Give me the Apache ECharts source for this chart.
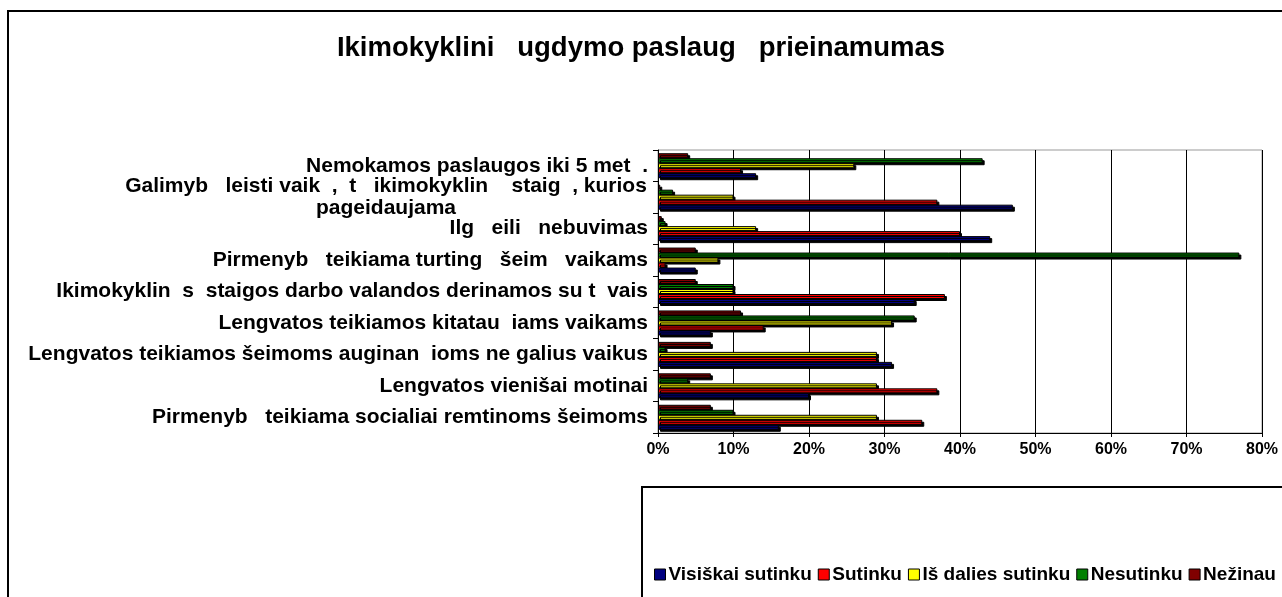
<!DOCTYPE html>
<html>
<head>
<meta charset="utf-8">
<script src="https://cdn.jsdelivr.net/npm/echarts@6/dist/echarts.min.js"></script>
<style>
html, body { margin: 0; padding: 0; background: #fff; }
#chart { width: 1282px; height: 597px; }
</style>
</head>
<body>
<div id="chart"></div>
<script>
(function(){
"use strict";
// categories, bottom to top (as ECharts lays out the y category axis)
var categories = [
  'Pirmenyb   teikiama socialiai remtinoms šeimoms',
  'Lengvatos vienišai motinai',
  'Lengvatos teikiamos šeimoms auginan  ioms ne galius vaikus',
  'Lengvatos teikiamos kitatau  iams vaikams',
  'Ikimokyklin  s  staigos darbo valandos derinamos su t  vais',
  'Pirmenyb   teikiama turting   šeim   vaikams',
  'Ilg   eili   nebuvimas',
  'Galimyb   leisti vaik  ,  t   ikimokyklin    staig  , kurios\npageidaujama',
  'Nemokamos paslaugos iki 5 met  .'
];
var seriesNames = ['Visiškai sutinku', 'Sutinku', 'Iš dalies sutinku', 'Nesutinku', 'Nežinau'];
var seriesColors = ['#000080', '#ff0000', '#ffff00', '#008000', '#800000'];
// values in percent, same order as categories
var visiskaiSutinku = [16, 20, 31, 7, 34, 5, 44, 47, 13];
var sutinku         = [35, 37, 29, 14, 38, 1, 40, 37, 11];
var isDaliesSutinku = [29, 29, 29, 31, 10, 8, 13, 10, 26];
var nesutinku       = [10, 4, 1, 34, 10, 77, 1, 2, 43];
var nezinau         = [7, 7, 7, 11, 5, 5, 0.5, 0.3, 4];
var xTicks = [0, 10, 20, 30, 40, 50, 60, 70, 80];

var seriesData = [visiskaiSutinku, sutinku, isDaliesSutinku, nesutinku, nezinau];
var myChart = echarts.init(document.getElementById('chart'));
var font = '"Liberation Sans", Arial, sans-serif';

// ECharts puts the first series at the top of each group, so add them in reverse
var series = [];
for (var i = seriesData.length - 1; i >= 0; i--) {
  series.push({
    name: seriesNames[i],
    type: 'bar',
    data: seriesData[i],
    barWidth: 5,
    barGap: '0%',
    itemStyle: {
      color: seriesColors[i],
      borderColor: '#000',
      borderWidth: 1,
      shadowColor: '#000',
      shadowOffsetX: 2,
      shadowOffsetY: 2,
      shadowBlur: 0
    }
  });
}

var labelStyle = { fontFamily: font, fontSize: 21, fontWeight: 'bold', color: '#000', lineHeight: 22 };

var option = {
  backgroundColor: '#fff',
  animation: false,
  title: {
    text: 'Ikimokyklini   ugdymo paslaug   prieinamumas',
    left: 'center',
    top: 29,
    textStyle: { fontFamily: font, fontSize: 27.5, fontWeight: 'bold', color: '#000' }
  },
  legend: {
    data: seriesNames,
    left: 649,
    top: 560,
    itemWidth: 11,
    itemHeight: 11,
    itemGap: 6,
    icon: 'rect',
    itemStyle: { borderColor: '#000', borderWidth: 1, shadowBlur: 0, shadowOffsetX: 0, shadowOffsetY: 0 },
    textStyle: { fontFamily: font, fontSize: 19, fontWeight: 'bold', color: '#000', padding: [0, 0, 0, -2] }
  },
  grid: {
    left: 658,
    right: 20,
    top: 150,
    bottom: 164,
    show: true,
    borderColor: '#999',
    borderWidth: 1
  },
  xAxis: {
    type: 'value',
    min: xTicks[0],
    max: xTicks[xTicks.length - 1],
    interval: 10,
    axisLine: { show: true, lineStyle: { color: '#000', width: 1 } },
    axisTick: { show: true, length: 4, lineStyle: { color: '#000' } },
    axisLabel: {
      formatter: '{value}%',
      fontFamily: font, fontSize: 16, fontWeight: 'bold', color: '#000', margin: 9
    },
    splitLine: { show: true, lineStyle: { color: '#000', width: 1 } }
  },
  yAxis: {
    type: 'category',
    data: categories,
    axisLine: { show: true, lineStyle: { color: '#000', width: 1 } },
    axisTick: { show: true, length: 5, lineStyle: { color: '#000' } },
    axisLabel: {
      interval: 0,
      hideOverlap: false,
      margin: 10,
      fontFamily: labelStyle.fontFamily,
      fontSize: labelStyle.fontSize,
      fontWeight: labelStyle.fontWeight,
      color: labelStyle.color,
      lineHeight: labelStyle.lineHeight,
      // the wrapped label is centred line by line, like the original
      formatter: function(v){
        if (v.indexOf('\n') < 0) return v;
        return v.split('\n').map(function(s){ return '{c|' + s + '}'; }).join('\n');
      },
      rich: {
        c: {
          align: 'center',
          width: 524,
          fontFamily: labelStyle.fontFamily,
          fontSize: labelStyle.fontSize,
          fontWeight: labelStyle.fontWeight,
          color: labelStyle.color,
          lineHeight: labelStyle.lineHeight
        }
      }
    }
  },
  graphic: [
    {
      type: 'rect', silent: true, z: -10,
      shape: { x: 8, y: 11, width: 1300, height: 620 },
      style: { fill: 'none', stroke: '#000', lineWidth: 2 }
    },
    {
      type: 'rect', silent: true, z: -9,
      shape: { x: 642, y: 487, width: 700, height: 200 },
      style: { fill: 'none', stroke: '#000', lineWidth: 2 }
    }
  ],
  series: series
};
myChart.setOption(option);
})();
</script>
</body>
</html>
